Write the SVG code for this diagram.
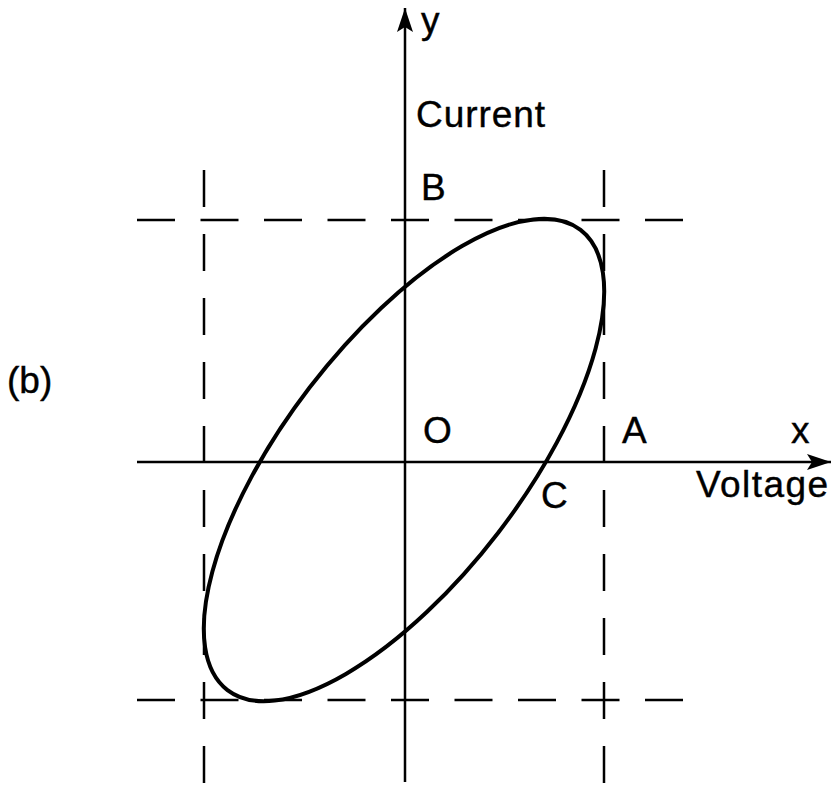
<svg xmlns="http://www.w3.org/2000/svg" width="834" height="786" viewBox="0 0 834 786">
<defs>
<style>
.ax{stroke:#000;stroke-width:2.5;fill:none}
.dh{stroke:#000;stroke-width:2.5;fill:none;stroke-dasharray:38 25.5}
.dv{stroke:#000;stroke-width:2.5;fill:none;stroke-dasharray:37 27}
.curve{stroke:#000;stroke-width:4;fill:none}
text{font-family:"Liberation Sans",Arial,sans-serif;font-size:37px;fill:#000;stroke:#000;stroke-width:0.4}
</style>
<marker id="arr" viewBox="0 0 24 16" refX="24" refY="8" markerWidth="24" markerHeight="16" markerUnits="userSpaceOnUse" orient="auto">
<path d="M0,0 L24,8 L0,16 L5,8 Z" fill="#000"/>
</marker>
</defs>
<rect width="834" height="786" fill="#fff"/>
<g id="connectors">
<line class="ax" x1="405" y1="782" x2="405" y2="8" marker-end="url(#arr)"/>
<line class="ax" x1="137" y1="462" x2="831" y2="462" marker-end="url(#arr)"/>
<line class="dh" x1="137" y1="220" x2="686" y2="220"/>
<line class="dh" x1="137" y1="700" x2="686" y2="700"/>
<line class="dv" x1="204" y1="170" x2="204" y2="783"/>
<line class="dv" x1="604" y1="170" x2="604" y2="783"/>
</g>
<g id="ellipse">
<ellipse class="curve" cx="404" cy="460" rx="290" ry="119" transform="rotate(-52.5 404 460)"/>
</g>
<g id="labels">
<text x="421" y="33">y</text>
<text x="416" y="127" textLength="129">Current</text>
<text x="421" y="200">B</text>
<text x="7" y="393">(b)</text>
<text x="423" y="443">O</text>
<text x="622" y="443">A</text>
<text x="791" y="443">x</text>
<text x="696" y="497" textLength="132">Voltage</text>
<text x="541" y="508">C</text>
</g>
</svg>
